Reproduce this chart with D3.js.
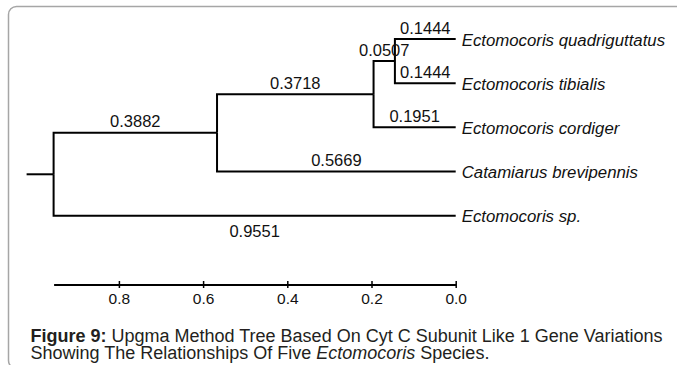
<!DOCTYPE html>
<html>
<head>
<meta charset="utf-8">
<script src="https://cdn.jsdelivr.net/npm/d3@7"></script>
<style>
  html, body { margin: 0; padding: 0; background: #fff; }
  svg { display: block; font-family: 'Liberation Sans', Arial, sans-serif; }
</style>
</head>
<body>
<div id="tree"></div>
<script>
// tree data (UPGMA, branch lengths as printed on the figure)
const nodeIds = ['root', 'n1', 'n2', 'n3',
  'Ectomocoris quadriguttatus', 'Ectomocoris tibialis', 'Ectomocoris cordiger',
  'Catamiarus brevipennis', 'Ectomocoris sp.'];
const parentIds = ['', 'root', 'n1', 'n2', 'n3', 'n3', 'n2', 'n1', 'root'];
const branchLengths = [0, 0.3882, 0.3718, 0.0507, 0.1444, 0.1444, 0.1951, 0.5669, 0.9551];
const branchLabels = ['', '0.3882', '0.3718', '0.0507', '0.1444', '0.1444', '0.1951', '0.5669', '0.9551'];
const axisTicks = [0.8, 0.6, 0.4, 0.2, 0.0];

const width = 677;
const height = 365;
const leafTop = 39;
const leafBottom = 215.7;
const axisY = 284.5;

const svg = d3.select('#tree').append('svg')
  .attr('width', width)
  .attr('height', height);

/* ----------frame------------*/
svg.append('rect')
  .attr('x', 8.5).attr('y', 6.5)
  .attr('width', 720).attr('height', 362)
  .attr('rx', 8).attr('ry', 8)
  .attr('fill', 'none')
  .attr('stroke', '#a6a6a6')
  .attr('stroke-width', 1.5);

/* ----------build hierarchy------------*/
const rows = nodeIds.map((id, i) => ({ id, parent: parentIds[i], len: branchLengths[i], label: branchLabels[i] }));
const root = d3.stratify().id(d => d.id).parentId(d => d.parent || null)(rows);

root.eachBefore(n => { n.dist = n.parent ? n.parent.dist + n.data.len : 0; });
const treeHeight = d3.max(root.leaves(), d => d.dist);
root.each(n => { n.age = treeHeight - n.dist; });

const x = d3.scaleLinear().domain([0, treeHeight]).range([455.7, 455.7 - treeHeight * 421]);
const y = d3.scalePoint().domain(root.leaves().map(d => d.id)).range([leafTop, leafBottom]);

root.eachAfter(n => {
  n.y = n.children ? (n.children[0].y + n.children[n.children.length - 1].y) / 2 : y(n.id);
});

const g = svg.append('g');

/* ----------branches------------*/
const links = root.descendants().filter(n => n.parent);
g.selectAll('.branch').data(links).enter().append('path')
  .attr('class', 'branch')
  .attr('fill', 'none')
  .attr('stroke', '#000')
  .attr('stroke-width', 2)
  .attr('d', n => 'M' + x(n.parent.age) + ',' + n.parent.y + 'V' + n.y + 'H' + x(n.age));

// root stub
g.append('line')
  .attr('x1', x(root.age) - 27).attr('x2', x(root.age))
  .attr('y1', root.y).attr('y2', root.y)
  .attr('stroke', '#000').attr('stroke-width', 2);

/* ----------branch length labels------------*/
const lastRootChild = root.children[root.children.length - 1];
g.selectAll('.blen').data(links).enter().append('text')
  .attr('class', 'blen')
  .attr('x', n => (x(n.parent.age) + x(n.age)) / 2)
  .attr('y', n => n === lastRootChild ? n.y + 21 : n.y - 5.5)
  .attr('text-anchor', 'middle')
  .attr('font-size', 16.5)
  .attr('fill', '#111')
  .text(n => n.data.label);

/* ----------leaf names------------*/
g.selectAll('.leaf').data(root.leaves()).enter().append('text')
  .attr('class', 'leaf')
  .attr('x', n => x(n.age) + 6)
  .attr('y', n => n.y + 6.5)
  .attr('font-size', 16.8)
  .attr('font-style', 'italic')
  .attr('fill', '#111')
  .text(n => n.id);

/* ----------scale axis------------*/
const axis = svg.append('g')
  .attr('transform', 'translate(0,' + axisY + ')')
  .call(d3.axisBottom(x).tickValues(axisTicks).tickFormat(d3.format('.1f')).tickSizeOuter(0).tickSizeInner(3).tickPadding(5));

axis.select('.domain').attr('stroke', '#000').attr('stroke-width', 2);
axis.selectAll('.tick line').attr('y1', -3.5).attr('y2', 3.5).attr('stroke', '#000').attr('stroke-width', 1.5);
axis.selectAll('.tick text')
  .attr('font-family', null)
  .attr('font-size', 15.5)
  .attr('fill', '#111');

/* ----------caption------------*/
const caption = svg.append('text')
  .attr('x', 30.5)
  .attr('y', 342)
  .attr('font-size', 18)
  .attr('fill', '#231f20');
caption.append('tspan').attr('font-weight', 'bold').text('Figure 9:');
caption.append('tspan').text(' Upgma Method Tree Based On Cyt C Subunit Like 1 Gene Variations');

const caption2 = svg.append('text')
  .attr('x', 30.5)
  .attr('y', 358.5)
  .attr('font-size', 18)
  .attr('fill', '#231f20');
caption2.append('tspan').text('Showing The Relationships Of Five ');
caption2.append('tspan').attr('font-style', 'italic').text('Ectomocoris');
caption2.append('tspan').text(' Species.');
</script>
</body>
</html>
